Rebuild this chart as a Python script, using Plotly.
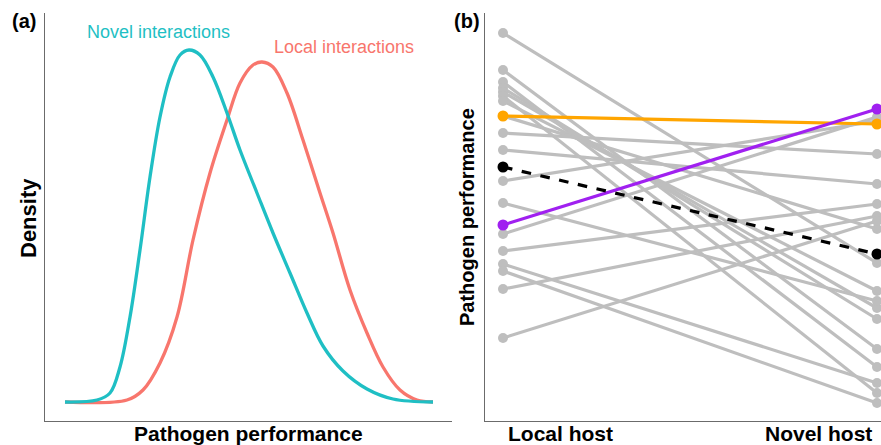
import plotly.graph_objects as go

# ---- Panel (a): density curves ----
novel_x = [65, 97, 110, 120, 130, 140, 150, 160, 170, 180, 189, 200, 213, 227, 240, 257, 273, 290, 307, 323, 343, 367, 393, 433]
novel_d = [0, 2, 9, 35, 85, 152, 225, 285, 325, 347, 352, 347, 325, 289, 252, 209, 169, 129, 89, 56, 31, 13, 3, 0]
local_x = [65, 127, 143, 160, 177, 193, 210, 227, 240, 253, 262, 273, 287, 303, 320, 333, 350, 367, 383, 400, 417, 433]
local_d = [0, 2, 12, 39, 85, 162, 229, 282, 319, 337, 340, 335, 309, 262, 209, 169, 112, 69, 35, 12, 2, 0]

# ---- Panel (b): reaction norms (pathogen performance) ----
hosts = ["Local host", "Novel host"]
grey_local = [388, 351, 339, 333, 329, 325, 320, 305, 288, 271, 240, 218, 187, 170, 157, 150, 132, 83]
grey_novel = [158, 72, 54, 102, 113, 28, 130, 192, 267, 237, 300, 120, 304, 217, 38, 18, 205, 200]
orange_vals = [305, 297]
purple_vals = [196, 312]
mean_vals = [254, 167]

TEAL = "#1FBFC4"
RED = "#F8766D"
GREY = "#BEBEBE"
ORANGE = "#FFA500"
PURPLE = "#A020F0"
AXIS = "#6b6b6b"

fig = go.Figure()

fig.add_trace(go.Scatter(x=local_x, y=local_d, mode="lines", line=dict(color=RED, width=3.3, shape="spline", smoothing=1.0),
                         xaxis="x", yaxis="y", showlegend=False, hoverinfo="skip"))
fig.add_trace(go.Scatter(x=novel_x, y=novel_d, mode="lines", line=dict(color=TEAL, width=3.3, shape="spline", smoothing=1.0),
                         xaxis="x", yaxis="y", showlegend=False, hoverinfo="skip"))

xpos = [0, 1]
for a, b in zip(grey_local, grey_novel):
    fig.add_trace(go.Scatter(x=xpos, y=[a, b], mode="lines+markers",
                             line=dict(color=GREY, width=3.2), marker=dict(color=GREY, size=10),
                             xaxis="x2", yaxis="y2", showlegend=False, cliponaxis=False, hoverinfo="skip"))
fig.add_trace(go.Scatter(x=xpos, y=orange_vals, mode="lines+markers",
                         line=dict(color=ORANGE, width=3.2), marker=dict(color=ORANGE, size=11),
                         xaxis="x2", yaxis="y2", showlegend=False, cliponaxis=False, hoverinfo="skip"))
fig.add_trace(go.Scatter(x=xpos, y=purple_vals, mode="lines+markers",
                         line=dict(color=PURPLE, width=3.2), marker=dict(color=PURPLE, size=11),
                         xaxis="x2", yaxis="y2", showlegend=False, cliponaxis=False, hoverinfo="skip"))
fig.add_trace(go.Scatter(x=xpos, y=mean_vals, mode="lines+markers",
                         line=dict(color="black", width=3.2, dash="dash"), marker=dict(color="black", size=11),
                         xaxis="x2", yaxis="y2", showlegend=False, cliponaxis=False, hoverinfo="skip"))

W, H = 881, 445
ydom = [(H - 421) / H, (H - 13) / H]

axis_common = dict(showgrid=False, zeroline=False, showticklabels=False, ticks="",
                   showline=True, linecolor=AXIS, linewidth=1.2)

fig.update_layout(
    width=W, height=H, margin=dict(l=0, r=0, t=0, b=0),
    paper_bgcolor="white", plot_bgcolor="white",
    font=dict(family="Liberation Sans, Arial, sans-serif", color="black"),
    xaxis=dict(domain=[45 / W, 452 / W], range=[45, 452], **axis_common),
    yaxis=dict(domain=ydom, range=[-19, 389], anchor="x", **axis_common),
    xaxis2=dict(domain=[485 / W, 1.0], range=[-18 / 374, 1 + 4 / 374], anchor="y2", **axis_common),
    yaxis2=dict(domain=ydom, range=[0, 408], anchor="x2", **axis_common),
)

def ann(text, x, y, size, bold=True, color="black", angle=0, xanchor="center"):
    fig.add_annotation(text=f"<b>{text}</b>" if bold else text, xref="paper", yref="paper",
                       x=x / W, y=1 - y / H, showarrow=False, xanchor=xanchor, yanchor="middle",
                       textangle=angle, font=dict(size=size, color=color))

ann("(a)", 24, 21, 20)
ann("(b)", 467, 21, 20)
ann("Novel interactions", 85, 32, 18, bold=False, color=TEAL, xanchor="left")
ann("Local interactions", 272, 47, 18, bold=False, color=RED, xanchor="left")
ann("Pathogen performance", 248, 433, 21)
ann("Density", 28, 218, 22, angle=-90)
ann("Pathogen performance", 467, 217, 20, angle=-90)
ann(hosts[0], 560, 433, 21)
ann(hosts[1], 818, 433, 21)

fig.write_html("out.html")
